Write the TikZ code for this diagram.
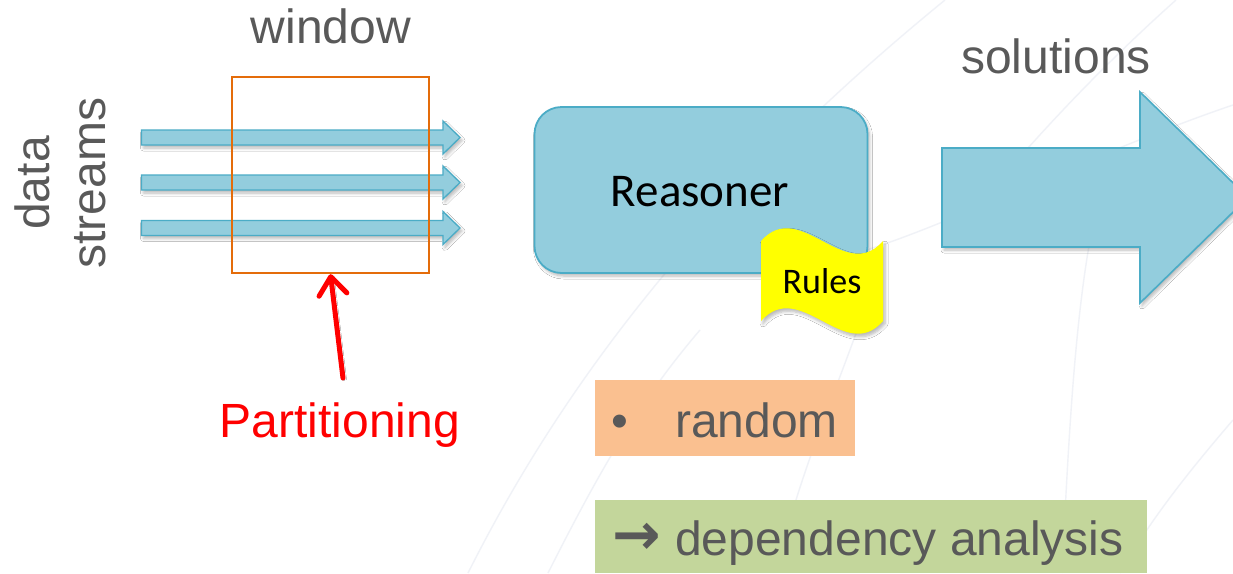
\documentclass[tikz,border=0pt]{standalone}
\usepackage{fontspec}
\setmainfont{Liberation Sans}
\newfontfamily\calibri{Carlito}
\newfontfamily\arrowfont{DejaVu Sans}
\usetikzlibrary{arrows.meta,shadows.blur}
\definecolor{txtgray}{HTML}{595959}
\definecolor{blfill}{HTML}{93CDDD}
\definecolor{bldraw}{HTML}{4BACC6}
\definecolor{winorange}{HTML}{E46C0A}
\definecolor{peach}{HTML}{FAC090}
\definecolor{sage}{HTML}{C3D69B}
\definecolor{rulesyellow}{HTML}{FFFF00}
\definecolor{faintline}{HTML}{F0F2F7}
\tikzset{
  softshadow/.style={blur shadow={shadow xshift=2pt,shadow yshift=-3pt,
      shadow blur steps=6,shadow blur radius=3pt,shadow opacity=28}},
  blockarrow/.style={fill=blfill,draw=bldraw,line width=1.6pt,line join=miter,softshadow},
  bigtext/.style={inner sep=0pt,font=\fontsize{48}{56}\selectfont,text=txtgray},
  backline/.style={draw=faintline,line width=1.4pt},
}
\begin{document}
\begin{tikzpicture}[x=1pt,y=-1pt]
\useasboundingbox (0,0) rectangle (1233,573);
\clip (0,0) rectangle (1233,573);
\fill[white] (0,0) rectangle (1233,573);

% faint template lines in the background
\path[backline] (468,573) .. controls (560,390) and (700,200) .. (945,0);
\path[backline] (548,573) .. controls (600,470) and (640,400) .. (700,330);
\path[backline] (1062,573) .. controls (1068,450) and (1074,330) .. (1090,240);
\path[backline] (1000,180) .. controls (1060,110) and (1120,50) .. (1176,0);
\path[backline] (860,252) .. controls (950,225) and (1100,150) .. (1233,105);
\path[backline] (1233,420) .. controls (1190,470) and (1150,520) .. (1120,573);
\path[backline] (868,300) .. controls (840,380) and (810,450) .. (790,520);

% three data streams
\foreach \c in {137.5,182.5,228}{
  \draw[blockarrow,line width=1.3pt] (141.5,{\c-7.5}) -- (443,{\c-7.5}) -- (443,{\c-16.5})
     -- (460,\c) -- (443,{\c+16.5}) -- (443,{\c+7.5}) -- (141.5,{\c+7.5}) -- cycle;
}

% window over the streams
\node[draw=winorange,line width=2.4pt,minimum width=197pt,minimum height=196pt,inner sep=0pt]
      (win) at (330.5,175) {};
\node[bigtext,anchor=base] (wintext) at (331,43) {window};

% stream label, set sideways
\node[bigtext,rotate=90,anchor=base] (data) at (49,183) {data};
\node[bigtext,rotate=90,anchor=base] (streams) at (105,183) {streams};

% reasoner and its rules
\node[fill=blfill,draw=bldraw,line width=1.8pt,rounded corners=27pt,
      minimum width=333pt,minimum height=166pt,inner sep=0pt,softshadow]
      (reasoner) at (701,190) {};
\node[inner sep=0pt,anchor=base,font=\calibri\fontsize{47}{56}\selectfont]
      (reasontext) at (700,206) {Reasoner};
\fill[rulesyellow,softshadow] (761,241) .. controls (800,197) and (845,285) .. (883,241)
   -- (883,321) .. controls (845,365) and (800,277) .. (761,321) -- cycle;
\node[inner sep=0pt,anchor=base,font=\calibri\fontsize{36}{42}\selectfont]
      (rules) at (822,293) {Rules};

% solutions output
\draw[blockarrow] (942,148) -- (1140,148) -- (1140,92) -- (1248,197.5)
   -- (1140,303) -- (1140,247) -- (942,247) -- cycle;
\node[bigtext,anchor=base] (soltext) at (1056,73) {solutions};

% partitioning pointer
\node[bigtext,anchor=base,text=red] (part) at (340,437) {Partitioning};
\coordinate (ptail) at (343,378);
\draw[red,line width=5pt,line cap=round,
      blur shadow={shadow xshift=1.5pt,shadow yshift=-2pt,shadow opacity=20},
      -{Straight Barb[length=18pt,width=28pt,line cap=round,line join=round]}]
      (ptail) -- (win.south);

% strategy boxes
\node[fill=peach,minimum width=260pt,minimum height=76pt,inner sep=0pt,anchor=north west]
      (randbox) at (595,380) {};
\node[bigtext,anchor=base west] (bullet) at (611,437) {•};
\node[bigtext,anchor=base west] (random) at (675,437) {random};
\node[fill=sage,minimum width=552pt,minimum height=73pt,inner sep=0pt,anchor=north west]
      (depbox) at (595,500) {};
\node[inner sep=0pt,anchor=center,text=txtgray,font=\arrowfont\bfseries\fontsize{58}{64}\selectfont]
      (deparrow) at (637,539) {→};
\node[bigtext,anchor=base west] (dep) at (675,555) {dependency analysis};
\end{tikzpicture}
\end{document}
